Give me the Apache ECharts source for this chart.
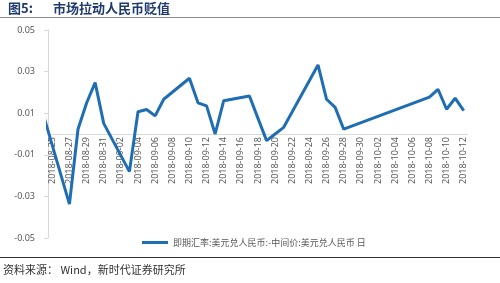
<!doctype html>
<html>
<head>
<meta charset="utf-8"/>
<title>市场拉动人民币贬值</title>
<script src="https://cdn.jsdelivr.net/npm/echarts@6/dist/echarts.min.js"></script>
<style>
body { margin: 0; background: #fff; }
#chart { width: 500px; height: 283px; }
</style>
</head>
<body>
<div id="chart"></div>
<script>
// calendar days on the axis (first one sits left of the visible range)
const days = [
    '2018-08-24','2018-08-25','2018-08-26','2018-08-27','2018-08-28','2018-08-29','2018-08-30','2018-08-31',
    '2018-09-01','2018-09-02','2018-09-03','2018-09-04','2018-09-05','2018-09-06','2018-09-07','2018-09-08',
    '2018-09-09','2018-09-10','2018-09-11','2018-09-12','2018-09-13','2018-09-14','2018-09-15','2018-09-16',
    '2018-09-17','2018-09-18','2018-09-19','2018-09-20','2018-09-21','2018-09-22','2018-09-23','2018-09-24',
    '2018-09-25','2018-09-26','2018-09-27','2018-09-28','2018-09-29','2018-09-30','2018-10-01','2018-10-02',
    '2018-10-03','2018-10-04','2018-10-05','2018-10-06','2018-10-07','2018-10-08','2018-10-09','2018-10-10',
    '2018-10-11','2018-10-12'
];

// trading days with a reading
const tradeDates = [
    '2018-08-24','2018-08-27','2018-08-28','2018-08-29','2018-08-30','2018-08-31','2018-09-03','2018-09-04',
    '2018-09-05','2018-09-06','2018-09-07','2018-09-10','2018-09-11','2018-09-12','2018-09-13','2018-09-14',
    '2018-09-17','2018-09-18','2018-09-19','2018-09-20','2018-09-21','2018-09-25','2018-09-26','2018-09-27',
    '2018-09-28','2018-10-08','2018-10-09','2018-10-10','2018-10-11','2018-10-12'
];
const spread = [
    0.0087,-0.0337,0.0023,0.0149,0.0247,0.0051,-0.0181,0.0107,
    0.0118,0.0087,0.0167,0.0268,0.0150,0.0135,0.0000,0.0160,
    0.0183,0.0075,-0.0032,0.0000,0.0032,0.0332,0.0167,0.0128,
    0.0023,0.0177,0.0215,0.0119,0.0172,0.0112
];

const yTicks = [-0.05, -0.03, -0.01, 0.01, 0.03, 0.05];
const seriesName = '即期汇率:美元兑人民币:-中间价:美元兑人民币 日';

// put each reading on its calendar day, gaps stay empty
const lineData = days.map((d) => {
    const i = tradeDates.indexOf(d);
    return i >= 0 ? spread[i] : null;
});

const chart = echarts.init(document.getElementById('chart'), null, { renderer: 'canvas' });
chart.setOption({
    animation: false,
    textStyle: { fontFamily: '"Noto Sans", "Noto Sans CJK SC", sans-serif' },
    grid: { left: 48, right: 32, top: 30, bottom: 45, outerBoundsMode: 'none', containLabel: false },
    graphic: [
        { type: 'text', left: 8, top: 2,
          style: { text: '图5:', font: 'bold 13px "Noto Sans CJK SC"', fill: '#1f3a6e' } },
        { type: 'text', left: 53, top: 2,
          style: { text: '市场拉动人民币贬值', font: 'bold 13px "Noto Sans CJK SC"', fill: '#1f3a6e' } },
        { type: 'line', shape: { x1: 0, y1: 17.5, x2: 500, y2: 17.5 },
          style: { stroke: '#8c8c8c', lineWidth: 1 } },
        { type: 'line', shape: { x1: 0, y1: 257.5, x2: 500, y2: 257.5 },
          style: { stroke: '#333', lineWidth: 1 } },
        { type: 'text', left: 3, top: 264,
          style: { text: '资料来源： Wind，新时代证券研究所', font: '11px "Noto Sans CJK SC"', fill: '#333' } }
    ],
    legend: {
        left: 137, top: 233,
        icon: 'rect', itemWidth: 26, itemHeight: 3, itemGap: 5,
        textStyle: { fontSize: 9, color: '#595959', fontFamily: '"Noto Sans CJK SC"' },
        data: [seriesName]
    },
    xAxis: {
        type: 'category',
        data: days,
        min: 1,
        boundaryGap: true,
        // sit the axis on the zero value (grid height 208, zero in the middle)
        offset: -104,
        axisLine: { onZero: false, lineStyle: { color: '#d9d9d9' } },
        axisTick: { show: false },
        axisLabel: {
            rotate: 90, fontSize: 9, color: '#595959', margin: 3,
            interval: (idx) => idx % 2 === 1
        },
        splitLine: { show: false }
    },
    yAxis: {
        type: 'value',
        min: -0.05, max: 0.05,
        axisLine: { show: true, lineStyle: { color: '#d9d9d9' } },
        axisTick: { show: true, length: 4, customValues: yTicks, lineStyle: { color: '#d9d9d9' } },
        axisLabel: {
            fontSize: 9, color: '#595959', margin: 13,
            customValues: yTicks,
            formatter: (v) => v.toFixed(2)
        },
        splitLine: { show: false }
    },
    series: [{
        name: seriesName,
        type: 'line',
        data: lineData,
        connectNulls: true,
        showSymbol: false,
        clip: true,
        lineStyle: { color: '#1f6eb4', width: 3 },
        itemStyle: { color: '#1f6eb4' }
    }]
});
</script>
</body>
</html>
